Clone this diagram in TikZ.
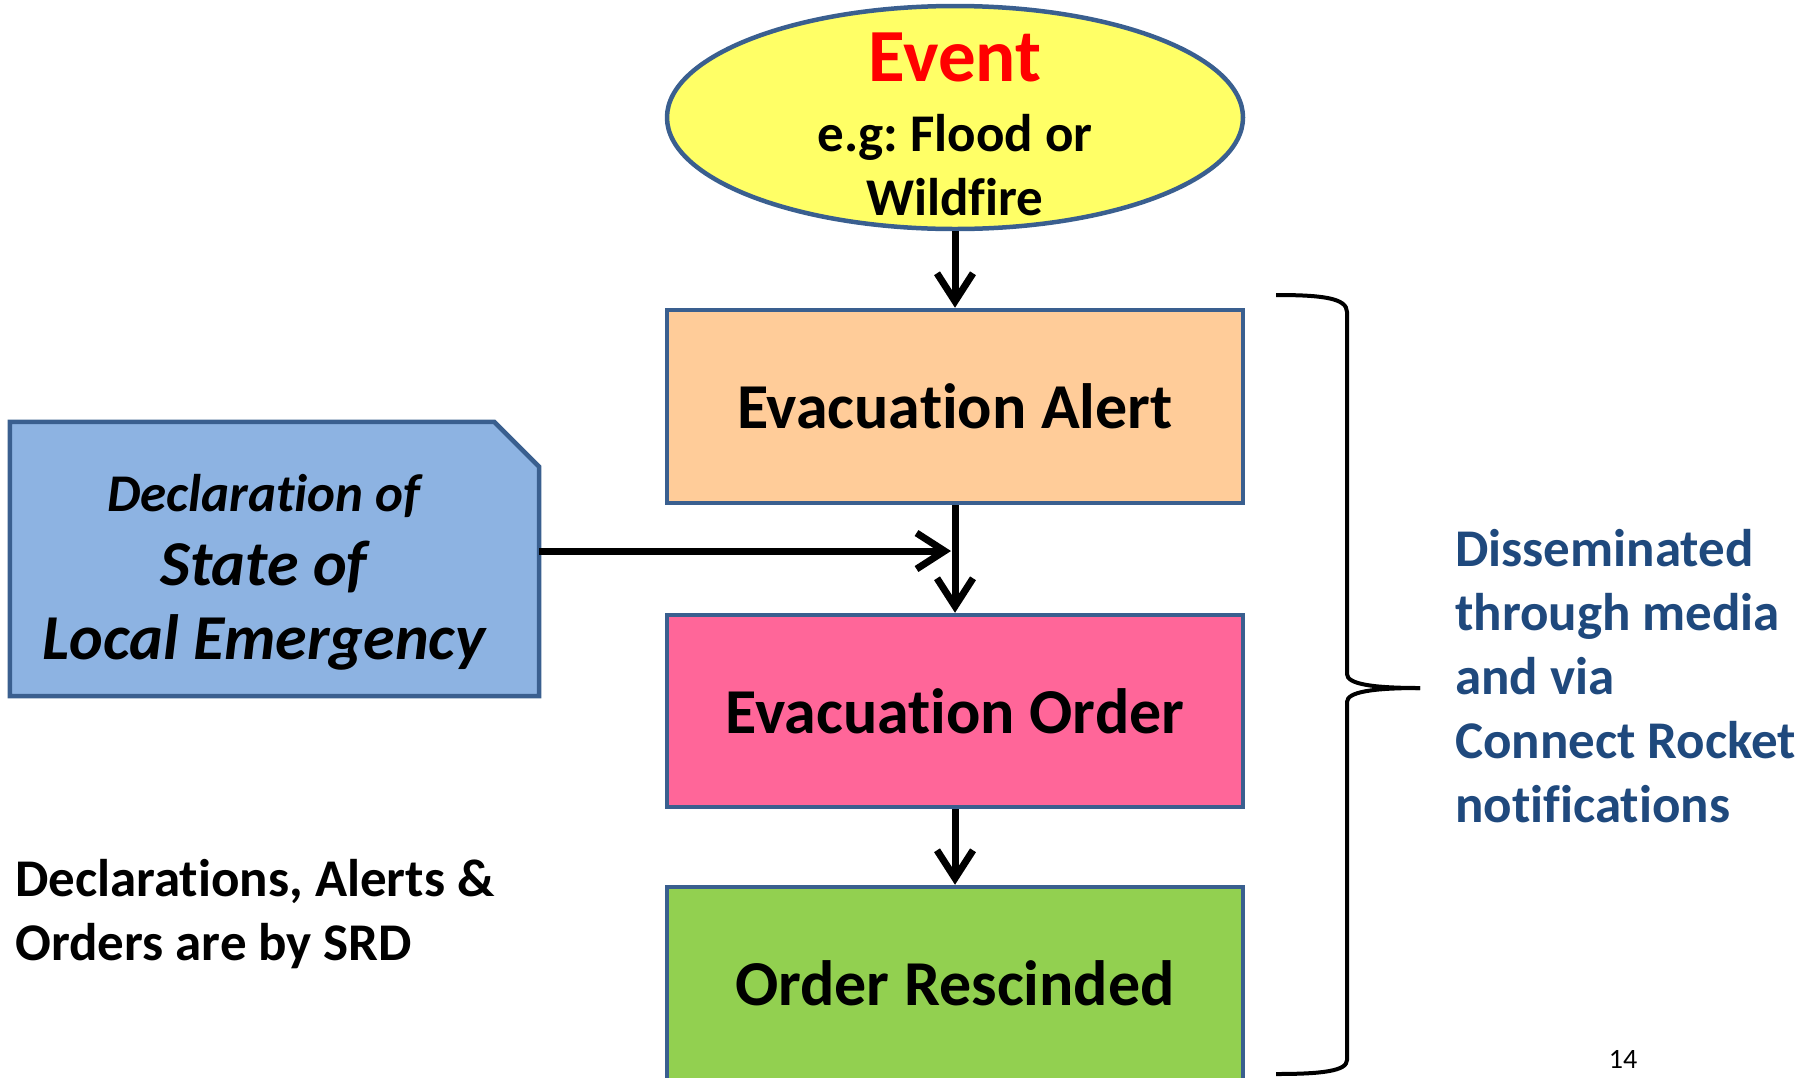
\documentclass[tikz,border=0pt]{standalone}
\usepackage{fontspec}
\setmainfont[Ligatures={NoCommon}]{Carlito}
\frenchspacing
\usetikzlibrary{arrows.meta,shapes.geometric,calc}
\definecolor{edgeblue}{HTML}{3A5F8F}
\definecolor{evyellow}{HTML}{FFFF66}
\definecolor{alertfill}{HTML}{FFCC99}
\definecolor{orderfill}{HTML}{FF6699}
\definecolor{rescfill}{HTML}{92D050}
\definecolor{declfill}{HTML}{8DB3E2}
\definecolor{txtblue}{HTML}{1F497D}
\tikzset{
  stagebox/.style={rectangle, draw=edgeblue, line width=4.5pt, minimum width=576pt, inner sep=0pt, font=\bfseries\fontsize{64}{76}\selectfont},
  flowarrow/.style={line width=7pt, -{Straight Barb[length=28pt,width=36pt,line width=7pt]}},
  bracepath/.style={line width=4pt, black},
}
\begin{document}
\begin{tikzpicture}[x=1pt,y=-1pt]
\useasboundingbox (0,0) rectangle (1815,1077);
\begin{scope}
\clip (0,0) rectangle (1815,1077);
% Event ellipse
\node[ellipse, draw=edgeblue, line width=4.5pt, fill=evyellow, minimum width=576pt, minimum height=223pt, inner sep=0pt] (event) at (955,117.5) {};
\node[align=center, font=\bfseries\fontsize{53}{64}\selectfont, inner sep=0pt] (eventtext) at (955,124) {{\color{red}\fontsize{75}{64}\selectfont Event}\\[6pt]e.g: Flood or\\Wildfire};
% Stages
\node[stagebox, fill=alertfill, minimum height=193pt] (alert) at (955,406.5) {Evacuation Alert};
\node[stagebox, fill=orderfill, minimum height=192pt] (order) at (955,711) {Evacuation Order};
\node[stagebox, fill=rescfill, minimum height=193pt] (resc) at (955,983.5) {Order Rescinded};
% Declaration box (snipped corner)
\node[rectangle, minimum width=529pt, minimum height=274pt, inner sep=0pt] (decl) at (274.5,559) {};
\draw[draw=edgeblue, line width=4.5pt, fill=declfill, line join=miter]
  (decl.south west) -- (decl.north west) -- ($(decl.north east)+(-45,0)$) -- ($(decl.north east)+(0,45)$) -- (decl.south east) -- cycle;
\node[align=center, inner sep=0pt, font=\bfseries\itshape\fontsize{64}{74}\selectfont] (decltext) at (264,572) {{\fontsize{53}{64}\selectfont Declaration of}\\State of\\Local Emergency};
% Arrows
\coordinate (declout) at (decl.east |- 0,551);
\coordinate (joinpt) at (951,551);
\draw[flowarrow] (event.south) -- (alert.north);
\draw[flowarrow] (alert.south) -- (order.north);
\draw[flowarrow] (order.south) -- (resc.north);
\draw[flowarrow] (declout) -- (joinpt);
% Brace
\coordinate (bracetop) at (1276,295);
\coordinate (bracetip) at (1420,688);
\coordinate (bracebot) at (1276,1074);
\draw[bracepath] (bracetop) .. controls (1322,295) and (1347,298) .. (1347,312) -- (1347,674) .. controls (1347,684) and (1372,688) .. (bracetip);
\draw[bracepath] (bracetip) .. controls (1372,688) and (1347,692) .. (1347,702) -- (1347,1060) .. controls (1347,1071) and (1322,1074) .. (bracebot);
\end{scope}
% Texts
\node[anchor=west, align=left, text=txtblue, font=\bfseries\fontsize{53}{64}\selectfont, inner sep=0pt] (dissem) at (1455,676) {Disseminated\\through media\\and via\\Connect Rocket\\notifications};
\node[anchor=west, align=left, font=\bfseries\fontsize{53}{64}\selectfont, inner sep=0pt] (bysrd) at (15,914) {Declarations, Alerts \&\\Orders are by SRD};
\node[font=\fontsize{28}{32}\selectfont, inner sep=0pt] (pagenum) at (1623,1059) {14};
\end{tikzpicture}
\end{document}
